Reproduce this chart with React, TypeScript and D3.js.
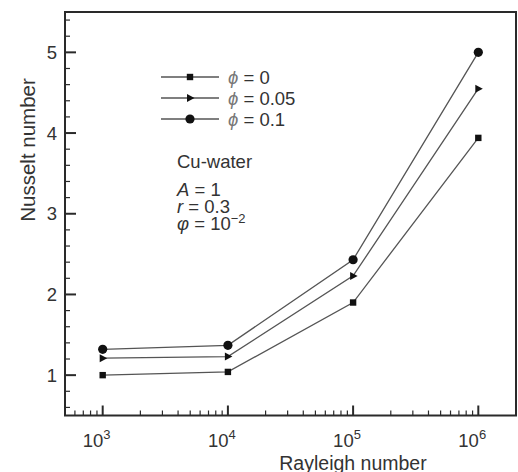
import React, { useEffect, useRef } from 'react'
import * as d3 from 'd3'

// Rayleigh numbers on the x axis
const rayleigh = [1e3, 1e4, 1e5, 1e6]
// Nusselt number for each volume fraction
const nuPhi0 = [1.0, 1.04, 1.9, 3.94]
const nuPhi005 = [1.21, 1.23, 2.23, 4.55]
const nuPhi01 = [1.32, 1.37, 2.43, 5.0]
const seriesLabels = ['0', '0.05', '0.1']
const yTicks = [1, 2, 3, 4, 5]
const xTickExps = [3, 4, 5, 6]

const FONT = '"Liberation Sans", Arial, sans-serif'

const App: React.FC = () => {
  const svgRef = useRef<SVGSVGElement>(null)

  useEffect(() => {
    if (!svgRef.current) return
    const svg = d3.select(svgRef.current)
    svg.selectAll('*').remove()

    const left = 65
    const right = 516
    const top = 12
    const bottom = 415.5
    const textColor = '#333'
    const axisColor = '#2a2a2a'

    const x = d3.scaleLog().domain([500, 2e6]).range([left, right])
    const y = d3.scaleLinear().domain([0.5, 5.5]).range([bottom, top])

    const g = svg.append('g')

    // frame
    g.append('rect')
      .attr('x', left)
      .attr('y', top)
      .attr('width', right - left)
      .attr('height', bottom - top)
      .attr('fill', 'none')
      .attr('stroke', axisColor)
      .attr('stroke-width', 2)

    // y ticks (inward)
    const yMinor = d3.range(0.6, 5.5, 0.2).filter(v => Math.abs(v - Math.round(v)) > 0.01)
    yMinor.forEach(v => {
      g.append('line')
        .attr('x1', left).attr('x2', left + 5)
        .attr('y1', y(v)).attr('y2', y(v))
        .attr('stroke', axisColor).attr('stroke-width', 1.2)
    })
    yTicks.forEach(v => {
      g.append('line')
        .attr('x1', left).attr('x2', left + 11)
        .attr('y1', y(v)).attr('y2', y(v))
        .attr('stroke', axisColor).attr('stroke-width', 2)
      g.append('text')
        .attr('x', left - 8)
        .attr('y', y(v))
        .attr('dy', '0.36em')
        .attr('text-anchor', 'end')
        .style('font-family', FONT)
        .style('font-size', '18.5px')
        .style('fill', textColor)
        .text(v)
    })

    // x ticks (inward)
    const xMinor: number[] = []
    for (let e = 2; e <= 6; e++) {
      for (let m = 2; m <= 9; m++) {
        const v = m * Math.pow(10, e)
        if (v >= 500 && v <= 2e6) xMinor.push(v)
      }
    }
    xMinor.forEach(v => {
      g.append('line')
        .attr('x1', x(v)).attr('x2', x(v))
        .attr('y1', bottom).attr('y2', bottom - 5)
        .attr('stroke', axisColor).attr('stroke-width', 1.2)
    })
    xTickExps.forEach(e => {
      const v = Math.pow(10, e)
      g.append('line')
        .attr('x1', x(v)).attr('x2', x(v))
        .attr('y1', bottom).attr('y2', bottom - 10)
        .attr('stroke', axisColor).attr('stroke-width', 2)
      const t = g.append('text')
        .attr('x', x(v) - 20)
        .attr('y', 447)
        .style('font-family', FONT)
        .style('font-size', '18.5px')
        .style('fill', textColor)
      t.append('tspan').text('10')
      t.append('tspan')
        .attr('dy', -8)
        .style('font-size', '13px')
        .text(e)
    })

    // axis titles
    g.append('text')
      .attr('x', 353)
      .attr('y', 470)
      .attr('text-anchor', 'middle')
      .style('font-family', FONT)
      .style('font-size', '19.5px')
      .style('fill', textColor)
      .text('Rayleigh number')

    g.append('text')
      .attr('transform', 'translate(35, 150) rotate(-90)')
      .attr('text-anchor', 'middle')
      .style('font-family', FONT)
      .style('font-size', '20.5px')
      .style('fill', textColor)
      .text('Nusselt number')

    const allSeries = [nuPhi0, nuPhi005, nuPhi01]
    const shapes = ['square', 'triangle', 'circle']

    const drawMarker = (sel: d3.Selection<SVGGElement, unknown, null, undefined>, shape: string, cx: number, cy: number) => {
      if (shape === 'square') {
        sel.append('rect')
          .attr('x', cx - 3.2).attr('y', cy - 3.2)
          .attr('width', 6.4).attr('height', 6.4)
          .attr('fill', '#111')
      } else if (shape === 'triangle') {
        sel.append('path')
          .attr('d', `M${cx - 3},${cy - 4}L${cx + 4.5},${cy}L${cx - 3},${cy + 4}Z`)
          .attr('fill', '#111')
      } else {
        sel.append('circle')
          .attr('cx', cx).attr('cy', cy).attr('r', 4.6)
          .attr('fill', '#111')
      }
    }

    const line = d3.line<number>()
      .x((_, i) => x(rayleigh[i]))
      .y(d => y(d))

    allSeries.forEach((s, k) => {
      g.append('path')
        .datum(s)
        .attr('d', line)
        .attr('fill', 'none')
        .attr('stroke', '#555')
        .attr('stroke-width', 1.3)
      s.forEach((v, i) => drawMarker(g, shapes[k], x(rayleigh[i]), y(v)))
    })

    // legend
    const legendY = [77, 98, 119]
    seriesLabels.forEach((lab, k) => {
      const ly = legendY[k]
      g.append('line')
        .attr('x1', 161).attr('x2', 219)
        .attr('y1', ly).attr('y2', ly)
        .attr('stroke', '#555').attr('stroke-width', 1.3)
      drawMarker(g, shapes[k], 190, ly)
      const t = g.append('text')
        .attr('x', 228)
        .attr('y', ly)
        .attr('dy', '0.36em')
        .style('font-family', FONT)
        .style('font-size', '18.5px')
        .style('fill', textColor)
      t.append('tspan').style('font-style', 'italic').style('fill', '#777').text('ϕ')
      t.append('tspan').text(` = ${lab}`)
    })

    // annotation
    const annLines = [
      { y: 168, it: '', rest: 'Cu-water', sup: '' },
      { y: 196, it: 'A', rest: ' = 1', sup: '' },
      { y: 213, it: 'r', rest: ' = 0.3', sup: '' },
      { y: 230, it: 'φ', rest: ' = 10', sup: '−2' }
    ]
    annLines.forEach(a => {
      const t = g.append('text')
        .attr('x', 177).attr('y', a.y)
        .style('font-family', FONT)
        .style('font-size', '18.5px')
        .style('fill', textColor)
      if (a.it) t.append('tspan').style('font-style', 'italic').text(a.it)
      t.append('tspan').text(a.rest)
      if (a.sup) t.append('tspan').attr('dy', -7).style('font-size', '13px').text(a.sup)
    })
  }, [])

  return (
    <svg
      ref={svgRef}
      width={518}
      height={472}
      style={{ position: 'absolute', left: 0, top: 0, background: '#fff' }}
    />
  )
}

export default App
